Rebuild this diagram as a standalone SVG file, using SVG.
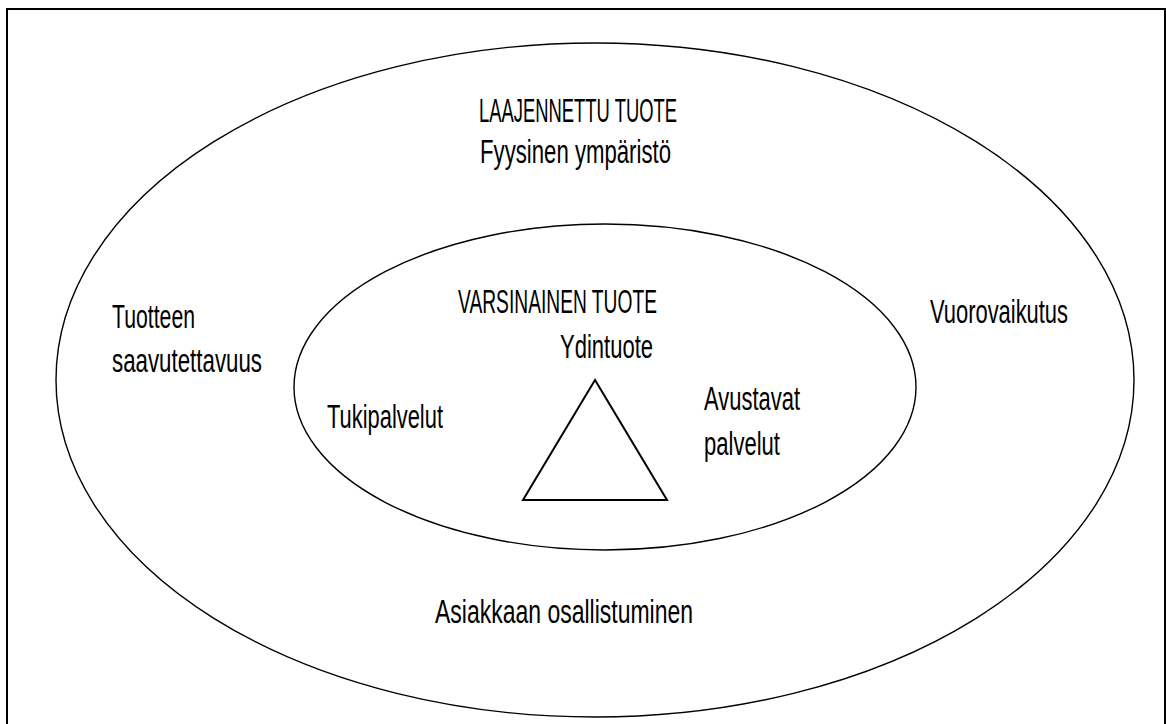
<svg xmlns="http://www.w3.org/2000/svg" width="1166" height="724" viewBox="0 0 1166 724">
<style>
  .lbl { font-family: "Liberation Sans Narrow", "Liberation Sans", Arial, sans-serif; font-size: 33px; fill: #000; }
  .shape { fill: none; stroke: #000; }
</style>
<rect x="0" y="0" width="1166" height="724" fill="#fff"/>
<g id="frame">
  <rect x="7" y="9" width="1158" height="740" class="shape" stroke-width="2"/>
</g>
<g id="outer">
  <ellipse cx="595" cy="380" rx="539" ry="337" class="shape" stroke-width="1.4"/>
  <text class="lbl" x="479" y="122" textLength="198" lengthAdjust="spacingAndGlyphs">LAAJENNETTU TUOTE</text>
  <text class="lbl" x="480" y="163" textLength="191" lengthAdjust="spacingAndGlyphs">Fyysinen ympäristö</text>
  <text class="lbl" x="112" y="328" textLength="83" lengthAdjust="spacingAndGlyphs">Tuotteen</text>
  <text class="lbl" x="112" y="372" textLength="150" lengthAdjust="spacingAndGlyphs">saavutettavuus</text>
  <text class="lbl" x="930" y="323" textLength="138" lengthAdjust="spacingAndGlyphs">Vuorovaikutus</text>
  <text class="lbl" x="435" y="623" textLength="258" lengthAdjust="spacingAndGlyphs">Asiakkaan osallistuminen</text>
</g>
<g id="inner">
  <ellipse cx="605" cy="387" rx="311" ry="163" class="shape" stroke-width="1.4"/>
  <text class="lbl" x="458" y="313" textLength="199" lengthAdjust="spacingAndGlyphs">VARSINAINEN TUOTE</text>
  <text class="lbl" x="327" y="428" textLength="116" lengthAdjust="spacingAndGlyphs">Tukipalvelut</text>
  <text class="lbl" x="704" y="410" textLength="96" lengthAdjust="spacingAndGlyphs">Avustavat</text>
  <text class="lbl" x="704" y="455" textLength="76" lengthAdjust="spacingAndGlyphs">palvelut</text>
</g>
<g id="core">
  <polygon points="595,380 523,500 667,500" class="shape" stroke-width="2"/>
  <text class="lbl" x="560" y="358" textLength="93" lengthAdjust="spacingAndGlyphs">Ydintuote</text>
</g>
<g id="connectors"></g>
</svg>
